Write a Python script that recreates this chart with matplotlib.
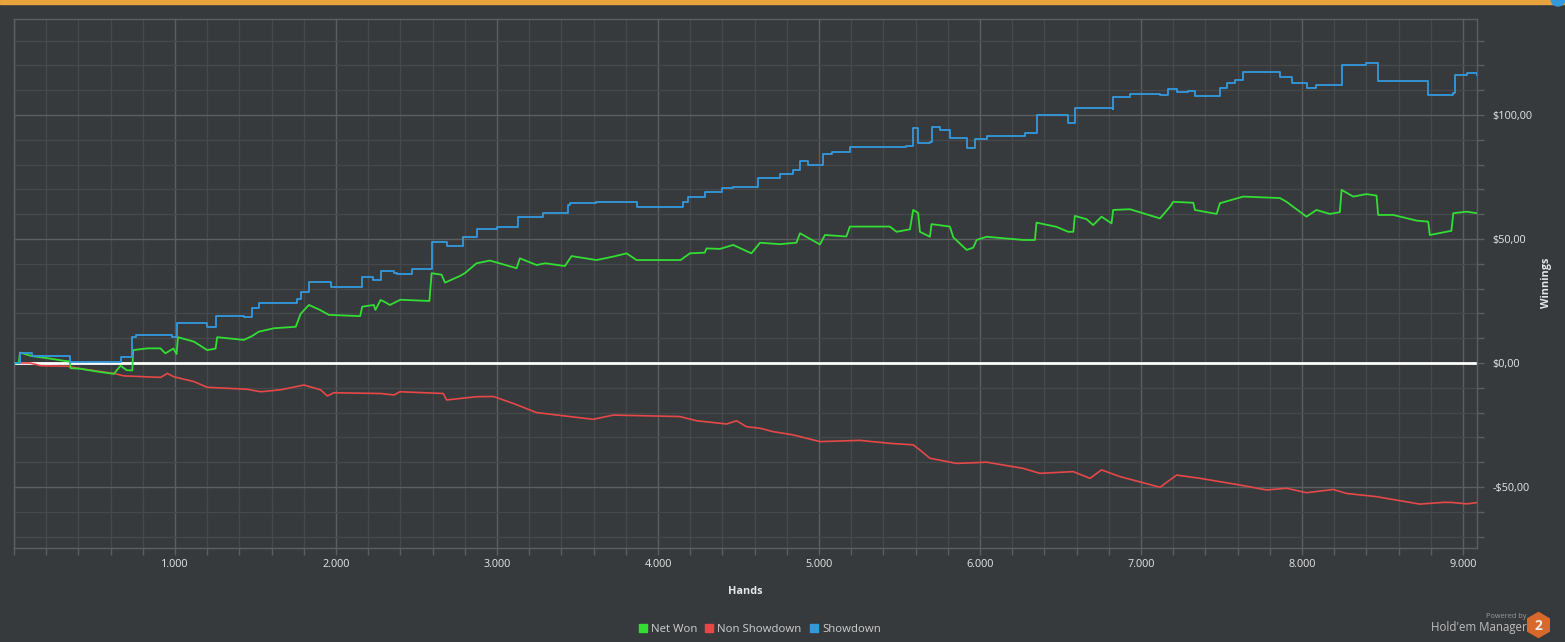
import matplotlib
matplotlib.use("Agg")
from matplotlib import pyplot as plt
from matplotlib.lines import Line2D
from matplotlib.patches import Rectangle, RegularPolygon, Circle
from matplotlib.ticker import MultipleLocator, FuncFormatter

# Showdown winnings (hands, $) - drawn as steps
showdown_hands = [0, 30, 37, 110, 345, 350, 667, 667, 735, 735, 760, 980, 1014, 1014, 1200, 1252, 1252,
                  1430, 1480, 1522, 1522, 1740, 1760, 1780, 1832, 1832, 1940, 1967, 2163, 2163, 2230, 2277,
                  2360, 2380, 2460, 2470, 2580, 2594, 2687, 2790, 2873, 2998, 3132, 3287, 3443, 3455, 3618,
                  3805, 3867, 3970, 4157, 4157, 4188, 4291, 4395, 4467, 4623, 4623, 4757, 4840, 4882, 4933,
                  5010, 5027, 5078, 5192, 5540, 5585, 5600, 5616, 5690, 5699, 5751, 5813, 5917, 5958, 5968,
                  6041, 6279, 6351, 6548, 6548, 6580, 6589, 6827, 6828, 6931, 7118, 7169, 7221, 7290, 7335,
                  7480, 7490, 7532, 7583, 7635, 7852, 7863, 7935, 8028, 8090, 8235, 8246, 8400, 8473, 8608,
                  8774, 8784, 8940, 8950, 9022, 9087]
showdown_vals = [0, 0, 4, 2.8, 2.5, 0.3, 0.3, 2.4, 2.4, 10.6, 11.3, 10.6, 10.6, 16, 14.6, 14.6, 19,
                 18.5, 22, 22, 24, 24, 26, 28.8, 28.8, 32.8, 32.8, 30.5, 30.5, 34.5, 33.5, 37.1,
                 36.4, 35.8, 35.8, 37.9, 37.9, 48.9, 47, 50.9, 53.9, 54.7, 58.7, 60.4, 63.7, 64.6, 65,
                 65, 63, 62.8, 62.8, 65, 66.8, 69, 70.4, 70.8, 70.8, 74.5, 76.2, 77.8, 81.4, 79.8,
                 79.8, 84.3, 85, 87.2, 87.5, 94.6, 94.6, 88.6, 89.2, 95, 94, 90.6, 86.6, 86.6, 90.2,
                 91.5, 92.9, 100, 100, 96.9, 96.9, 102.7, 102.3, 107.4, 108.5, 108, 110.4, 109.4, 109.8, 107.7,
                 107.7, 110.8, 112.7, 114.3, 117.5, 117.5, 115.5, 112.7, 110.8, 112.1, 112.1, 120.2, 120.9, 113.9, 113.5,
                 113.5, 108, 109, 116.1, 117, 116]

# Net Won (hands, $)
net_hands = [0, 30, 37, 110, 200, 330, 345, 352, 410, 520, 620, 662, 700, 735, 740, 830, 910, 940, 990,
             1010, 1018, 1118, 1200, 1252, 1262, 1428, 1480, 1520, 1614, 1750, 1780, 1832, 1900, 1956,
             2150, 2163, 2235, 2245, 2277, 2300, 2335, 2400, 2580, 2594, 2656, 2677, 2770, 2800, 2873,
             2956, 3122, 3142, 3246, 3300, 3422, 3463, 3618, 3722, 3805, 3867, 4140, 4198, 4290, 4302,
             4385, 4467, 4580, 4634, 4757, 4860, 4882, 5006, 5037, 5170, 5192, 5440, 5482, 5565, 5585,
             5616, 5627, 5689, 5699, 5813, 5834, 5917, 5958, 5979, 6041, 6269, 6341, 6351, 6475, 6548,
             6580, 6589, 6662, 6703, 6755, 6817, 6827, 6931, 7118, 7180, 7200, 7325, 7335, 7470, 7490,
             7635, 7863, 7904, 8028, 8090, 8173, 8235, 8246, 8318, 8401, 8463, 8473, 8567, 8712, 8784,
             8794, 8928, 8940, 9022, 9087]
net_vals = [0, 0, 4.2, 2.8, 2.0, 0.7, 0.7, -2.1, -2.3, -3.5, -4.4, -1.1, -2.9, -3, 5.2, 5.9, 5.9, 3.9, 5.8,
            3.6, 10.4, 8.6, 5.2, 5.8, 10.4, 9.3, 10.9, 12.6, 14, 14.6, 19.8, 23.4, 21.4, 19.4,
            18.9, 22.7, 23.4, 21.4, 25.4, 24.7, 23.4, 25.5, 25, 36.2, 35.6, 32.4, 35.1, 36.2, 40.2,
            41.3, 38.2, 42.2, 39.5, 40.2, 39.1, 43.1, 41.5, 42.9, 44.2, 41.5, 41.5, 44.2, 44.5, 46.2,
            46, 47.6, 44.2, 48.5, 47.9, 48.5, 52.3, 47.8, 51.6, 51, 55, 55, 52.9, 53.9, 61.7,
            60.5, 52.9, 50.9, 56, 55, 50.7, 45.6, 46.5, 49.6, 50.9, 49.6, 49.6, 56.6, 54.9, 52.9,
            52.9, 59.3, 58, 55.6, 59, 56.3, 61.7, 62, 58.3, 63, 65, 64.6, 61.7, 60.1, 64.4,
            67.1, 66.5, 65, 59, 61.7, 60.1, 60.8, 69.8, 67.1, 68.1, 67.5, 59.7, 59.7, 57.4, 57,
            51.6, 53.3, 60.4, 61, 60.4]

# Non Showdown (hands, $)
nsd_hands = [0, 100, 166, 331, 414, 621, 683, 911, 952, 994, 1118, 1200, 1449, 1532, 1656, 1801, 1904,
             1946, 1987, 2277, 2360, 2397, 2666, 2687, 2873, 2977, 3101, 3246, 3453, 3598, 3722, 3929,
             4136, 4240, 4426, 4488, 4550, 4633, 4716, 4840, 5006, 5254, 5440, 5585, 5627, 5689, 5855,
             6041, 6269, 6372, 6579, 6683, 6755, 6869, 7118, 7221, 7366, 7614, 7780, 7904, 8028, 8194,
             8277, 8463, 8732, 8878, 8922, 9022, 9087]
nsd_vals = [0, 0, -1.1, -1.3, -2.3, -4.2, -5.2, -5.8, -4.2, -5.6, -7.5, -9.8, -10.6, -11.6, -10.8, -8.9, -10.8,
            -13.3, -12, -12.3, -12.9, -11.6, -12.3, -14.9, -13.6, -13.5, -16.3, -20, -21.6, -22.7, -21, -21.3,
            -21.6, -23.3, -24.6, -23.3, -25.7, -26.3, -27.7, -29, -31.7, -31.2, -32.4, -33, -35.1, -38.4, -40.5,
            -40, -42.5, -44.5, -43.8, -46.5, -43.1, -45.8, -50.1, -45.2, -46.5, -49.2, -51.2, -50.5, -52.3, -51,
            -52.6, -53.9, -56.9, -56.2, -56.2, -56.8, -56.3]

series_names = ["Net Won", "Non Showdown", "Showdown"]
series_colors = ["#33dd33", "#e54848", "#3399dd"]

bg = "#373a3d"
grid_major = "#5c5f62"
grid_minor = "#46494c"
text_col = "#e6e6e6"

plt.rcParams["font.family"] = ["Open Sans", "DejaVu Sans"]

fig = plt.figure(figsize=(15.65, 6.42), dpi=100, facecolor=bg)
ax = fig.add_axes([14 / 1565, 1 - 548 / 642, (1477 - 14) / 1565, (548 - 19) / 642])
ax.set_facecolor(bg)

ax.set_xlim(0, 9087)
ax.set_ylim(-74.6, 138.7)

ax.xaxis.set_major_locator(MultipleLocator(1000))
ax.xaxis.set_minor_locator(MultipleLocator(200))
ax.yaxis.set_major_locator(MultipleLocator(50))
ax.yaxis.set_minor_locator(MultipleLocator(10))

ax.grid(True, which="major", color=grid_major, lw=1.0)
ax.grid(True, which="minor", color=grid_minor, lw=1.0)
ax.set_axisbelow(True)

ax.yaxis.tick_right()
ax.yaxis.set_label_position("right")
ax.tick_params(which="both", colors=grid_major, length=5, width=1, direction="out")
ax.tick_params(axis="both", which="major", labelcolor=text_col, labelsize=7.8)
ax.tick_params(axis="y", which="major", pad=6)
ax.tick_params(axis="x", which="major", pad=3)


def fmt_money(v, pos):
    s = f"${abs(v):.2f}".replace(".", ",")
    return "-" + s if v < 0 else s


def fmt_hands(v, pos):
    if v <= 0:
        return ""
    return f"{int(v):,}".replace(",", ".")


ax.yaxis.set_major_formatter(FuncFormatter(fmt_money))
ax.xaxis.set_major_formatter(FuncFormatter(fmt_hands))

for sp in ax.spines.values():
    sp.set_color(grid_major)
    sp.set_linewidth(1.0)

ax.axhline(0, color="white", lw=2.0, zorder=2)

ax.plot(nsd_hands, nsd_vals, color=series_colors[1], lw=1.2, zorder=3)
ax.plot(net_hands, net_vals, color=series_colors[0], lw=1.3, zorder=4)
ax.plot(showdown_hands, showdown_vals, color=series_colors[2], lw=1.3, drawstyle="steps-post", zorder=4)

ax.set_xlabel("Hands", color=text_col, fontsize=7.8, fontweight="bold")
ax.xaxis.set_label_coords((745 - 14) / 1463, -(586 - 548) / 529)
ax.set_ylabel("Winnings", color=text_col, fontsize=7.8, fontweight="bold", rotation=90)
ax.yaxis.set_label_coords((1541 - 14) / 1463, (548 - 283) / 529)

handles = [Line2D([], [], ls="none", marker="s", markersize=5.5, color=c) for c in series_colors]
leg = fig.legend(handles, series_names, loc="center", bbox_to_anchor=(760 / 1565, 1 - 629 / 642),
                 ncol=3, frameon=False, fontsize=8.2, handlelength=0.6, handletextpad=0.4,
                 columnspacing=0.8)
for t in leg.get_texts():
    t.set_color("#cfcfcf")

# top orange bar and small badge
fig.patches.append(Rectangle((0, 1 - 4 / 642), 1, 4 / 642, transform=fig.transFigure,
                             color="#e8a33d", zorder=0))
fig.patches.append(Circle((15.58, 6.43), 0.07, transform=fig.dpi_scale_trans, color="#3399dd"))

# branding
fig.text(1527 / 1565, 1 - 617 / 642, "Powered by", color="#9a9a9a", fontsize=5.3, ha="right", va="center")
fig.text(1527 / 1565, 1 - 627 / 642, "Hold'em Manager", color="#bdbdbd", fontsize=8.3, ha="right", va="center")
fig.patches.append(RegularPolygon((15.385, 0.17), numVertices=6, radius=0.125,
                                  transform=fig.dpi_scale_trans, color="#d8692a"))
fig.text(1538 / 1565, 1 - 626 / 642, "2", color="#eeeeee", fontsize=10, fontweight="bold",
         ha="center", va="center")

fig.savefig("out.png", dpi=100, facecolor=bg)
